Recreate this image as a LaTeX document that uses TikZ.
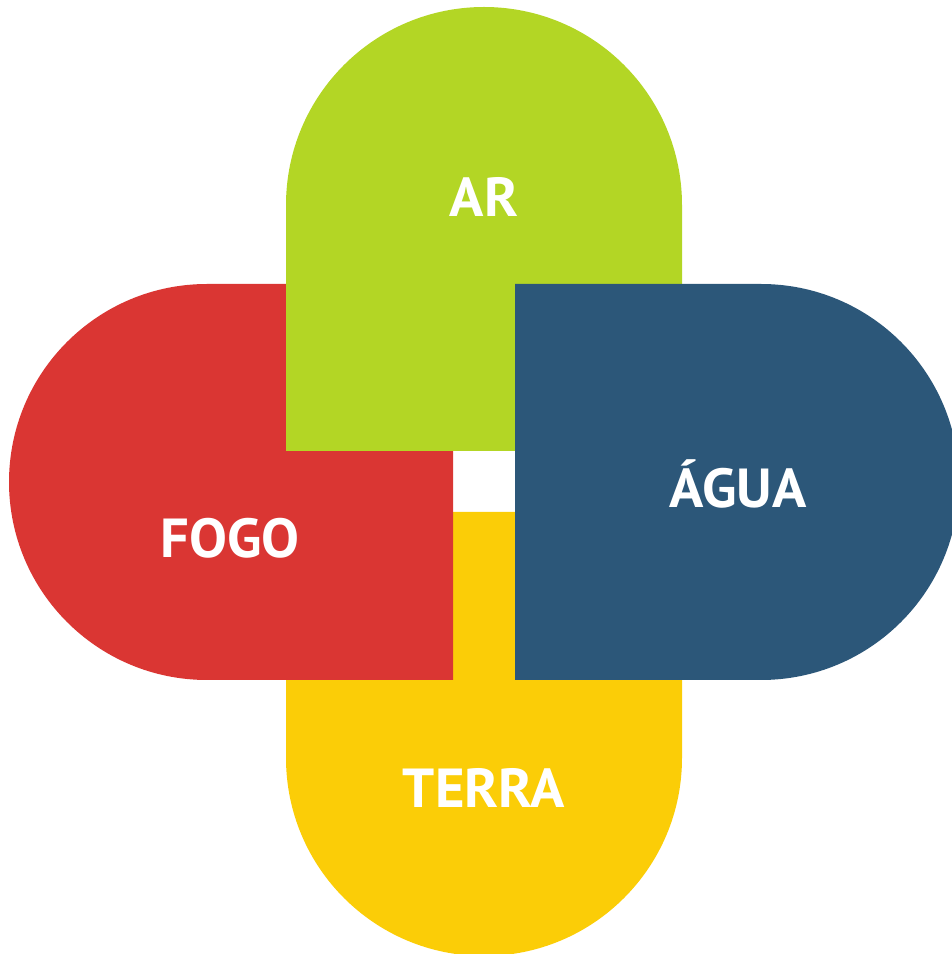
\documentclass[tikz,border=0pt]{standalone}
\usepackage{fontspec}
\setmainfont{PT Sans}
\definecolor{cgreen}{HTML}{B3D625}
\definecolor{cred}{HTML}{DA3633}
\definecolor{cblue}{HTML}{2C5779}
\definecolor{cyellow}{HTML}{FBCD07}
\tikzset{
  lbl/.style={text=white, font=\bfseries\fontsize{55}{60}\selectfont, inner sep=0pt, anchor=base, xscale=1.03}
}
\begin{document}
\begin{tikzpicture}[x=1pt,y=1pt]
\useasboundingbox (0,0) rectangle (952,954);
\begin{scope}
\clip (0,0) rectangle (952,954);
% yellow (bottom)
\fill[cyellow] (286,442) -- (682,442) -- (682,196) arc[start angle=0,end angle=-180,radius=198] -- cycle;
% red (left)
\fill[cred] (453,670) -- (453,274) -- (207,274) arc[start angle=270,end angle=90,radius=198] -- cycle;
% green (top)
\fill[cgreen] (286,503) -- (682,503) -- (682,749) arc[start angle=0,end angle=180,radius=198] -- cycle;
% blue (right)
\fill[cblue] (515,274) -- (515,670) -- (761,670) arc[start angle=90,end angle=-90,radius=198] -- cycle;
\end{scope}
\node[lbl] (ar) at (484,737) {AR};
\node[lbl] (fogo) at (230,396) {FOGO};
\node[lbl] (agua) at (738,446) {ÁGUA};
\node[lbl] (terra) at (484,146) {TERRA};
\end{tikzpicture}
\end{document}
